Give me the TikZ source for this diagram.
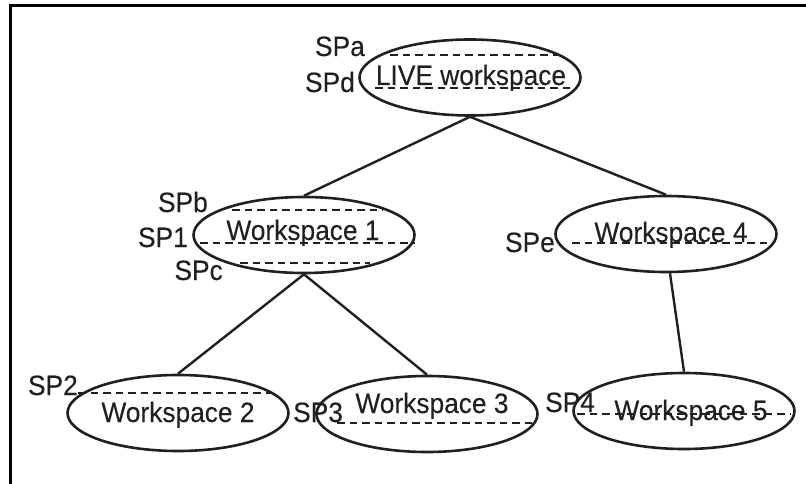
\documentclass[tikz,border=0pt]{standalone}
\usepackage{fontspec}
\setmainfont[FakeStretch=0.94,FakeBold=0.12]{Liberation Sans}
\usetikzlibrary{shapes.geometric}
\definecolor{ink}{HTML}{231F20}
\begin{document}
\begin{tikzpicture}[x=1pt,y=-1pt,
  ws/.style={ellipse,draw=ink,line width=2.6pt,minimum width=221pt,minimum height=76pt,inner sep=0pt},
  txt/.style={font=\fontsize{28}{32}\selectfont,text=ink,inner sep=0pt},
  sp/.style={draw=ink,line width=2.6pt,dash pattern=on 7.5pt off 5pt},
  conn/.style={draw=ink,line width=2.4pt}]
\useasboundingbox (0,0) rectangle (806,484);
\clip (0,0) rectangle (806,484);
\draw[line width=3pt] (10.5,5.5) rectangle (900,600);
% ellipses
\node[ws] (live) at (470,77.5) {};
\node[ws] (w1) at (304,235) {};
\node[ws] (w4) at (666,234) {};
\node[ws] (w2) at (178,413) {};
\node[ws] (w3) at (427,414) {};
\node[ws] (w5) at (684,411) {};
% connectors
\draw[conn] (live.south) -- (w1.north);
\draw[conn] (live.south) -- (w4.north);
\draw[conn] (w1.south) -- (w2.north);
\draw[conn] (w1.south) -- (w3.north);
\draw[conn] ([xshift=4pt]w4.south) -- (w5.north);
% dashed save-point lines
\draw[sp] (390,55) -- (560,55);
\draw[sp] (375,88) -- (573,88);
\draw[sp] (232,210) -- (383,210);
\draw[sp] (200,243) -- (415,243);
\draw[sp] (240,263) -- (370,263);
\draw[sp] (572,243) -- (773,243);
\draw[sp] (78,393) -- (277,393);
\draw[sp] (337,423) -- (532,423);
\draw[sp] (577,414) -- (790,414);
% texts
\node[txt,anchor=base] (tlive) at (471,85) {LIVE workspace};
\node[txt,anchor=base] (tw1) at (303,240) {Workspace 1};
\node[txt,anchor=base] (tw4) at (671,242) {Workspace 4};
\node[txt,anchor=base] (tw2) at (178,422) {Workspace 2};
\node[txt,anchor=base] (tw3) at (432,413) {Workspace 3};
\node[txt,anchor=base] (tw5) at (691,420) {Workspace 5};
% labels
\node[txt,anchor=base east] (spa) at (365,56) {SPa};
\node[txt,anchor=base east] (spd) at (355,92) {SPd};
\node[txt,anchor=base east] (spb) at (208,212) {SPb};
\node[txt,anchor=base east] (sp1) at (188,247) {SP1};
\node[txt,anchor=base east] (spc) at (223,280) {SPc};
\node[txt,anchor=base east] (spe) at (555,252) {SPe};
\node[txt,anchor=base east] (sp2) at (78,395) {SP2};
\node[txt,anchor=base west] (sp3) at (293,422) {SP3};
\node[txt,anchor=base west] (sp4) at (545,412) {SP4};
\end{tikzpicture}
\end{document}
